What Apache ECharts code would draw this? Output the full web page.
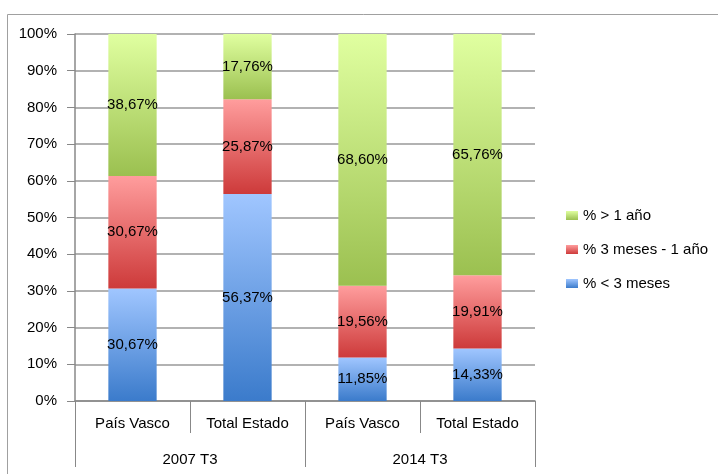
<!DOCTYPE html>
<html>
<head>
<meta charset="utf-8">
<script src="https://cdn.jsdelivr.net/npm/echarts@6/dist/echarts.min.js"></script>
<style>
  html, body { margin: 0; padding: 0; background: #fff; }
  #chart { width: 718px; height: 474px; }
</style>
</head>
<body>
<div id="chart"></div>
<script>
var categories = ['País Vasco', 'Total Estado', 'País Vasco', 'Total Estado'];
var periods = ['2007 T3', '2014 T3'];
var menos3 = [30.67, 56.37, 11.85, 14.33];
var tresA1 = [30.67, 25.87, 19.56, 19.91];
var mas1 = [38.67, 17.76, 68.60, 65.76];
var yTicks = [0, 10, 20, 30, 40, 50, 60, 70, 80, 90, 100];

var font = 'Liberation Sans';

function grad(top, bottom) {
    return new echarts.graphic.LinearGradient(0, 0, 0, 1, [
        {offset: 0, color: top},
        {offset: 1, color: bottom}
    ]);
}

function fmt(p) {
    return p.value.toFixed(2).replace('.', ',') + '%';
}

function makeSeries(name, data, top, bottom) {
    return {
        name: name,
        type: 'bar',
        stack: 'total',
        barWidth: '42%',
        data: data,
        itemStyle: {color: grad(top, bottom)},
        label: {
            show: true,
            position: 'inside',
            color: '#000',
            fontFamily: font,
            fontSize: 15,
            formatter: fmt
        }
    };
}

var chart = echarts.init(document.getElementById('chart'));
var option = {
    animation: false,
    graphic: [{
        type: 'rect',
        shape: {x: 7.5, y: 14.5, width: 720, height: 470},
        style: {fill: 'none', stroke: '#a0a0a0', lineWidth: 1}
    }],
    grid: {left: 75, top: 34, right: 183, bottom: 73},
    legend: {
        orient: 'vertical',
        left: 561,
        top: 203,
        icon: 'rect',
        itemWidth: 12,
        itemHeight: 9,
        itemGap: 19,
        data: ['% > 1 año', '% 3 meses - 1 año', '% < 3 meses'],
        textStyle: {fontFamily: font, fontSize: 15, color: '#000'}
    },
    xAxis: [{
        type: 'category',
        data: categories,
        axisLine: {lineStyle: {color: '#888', width: 1.5}},
        axisTick: {show: true, interval: 0, length: 32, lineStyle: {color: '#888'}},
        axisLabel: {interval: 0, margin: 15, color: '#000', fontFamily: font, fontSize: 15}
    }, {
        type: 'category',
        data: periods,
        position: 'bottom',
        axisLine: {show: false},
        axisTick: {show: true, interval: 0, length: 66, lineStyle: {color: '#888'}},
        axisLabel: {interval: 0, margin: 51, color: '#000', fontFamily: font, fontSize: 15}
    }],
    yAxis: {
        type: 'value',
        min: 0,
        max: 100,
        interval: 10,
        axisLine: {show: true, lineStyle: {color: '#888', width: 1.5}},
        axisTick: {show: true, length: 8, lineStyle: {color: '#888'}},
        splitLine: {lineStyle: {color: '#999', width: 1.5}},
        axisLabel: {
            color: '#000',
            fontFamily: font,
            fontSize: 15,
            margin: 18,
            formatter: function (v) { return yTicks.indexOf(v) >= 0 ? v + '%' : ''; }
        }
    },
    series: [
        makeSeries('% < 3 meses', menos3, '#a0c6ff', '#3b7bcb'),
        makeSeries('% 3 meses - 1 año', tresA1, '#ff9d9d', '#cd3a3a'),
        makeSeries('% > 1 año', mas1, '#e0ffa0', '#9bc050')
    ]
};
chart.setOption(option);
</script>
</body>
</html>
